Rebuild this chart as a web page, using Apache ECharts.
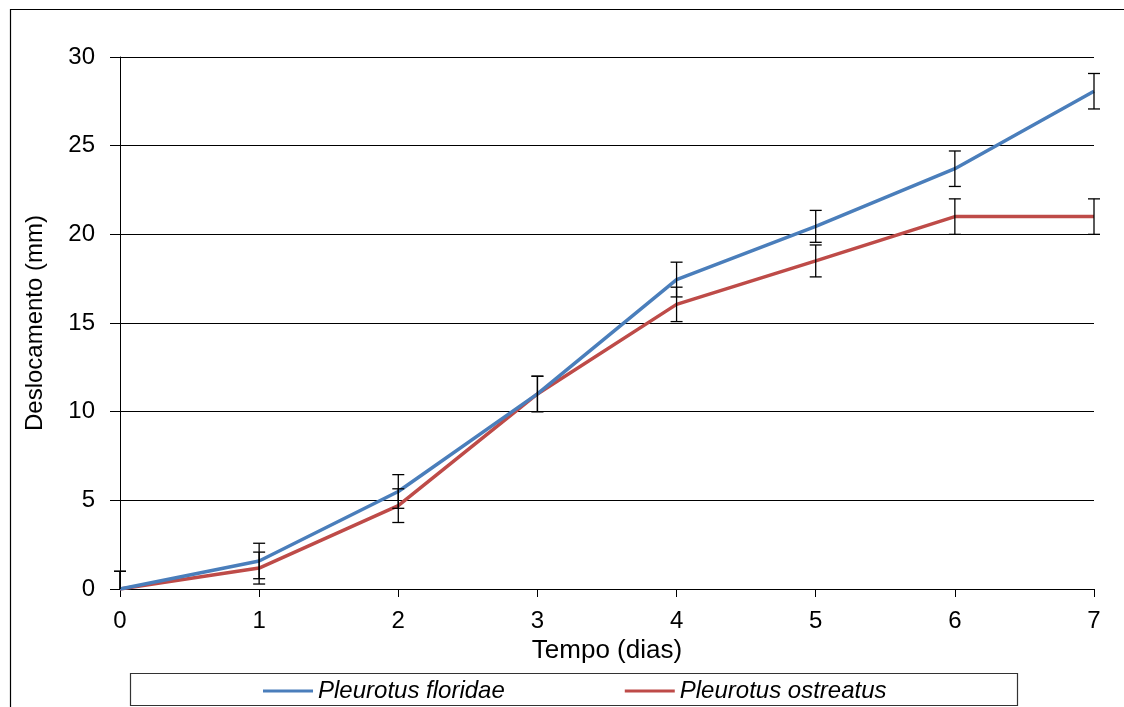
<!DOCTYPE html>
<html>
<head>
<meta charset="utf-8">
<script src="https://cdn.jsdelivr.net/npm/echarts@6/dist/echarts.min.js"></script>
<style>
  html, body { margin: 0; padding: 0; background: #fff; }
  #main { width: 1124px; height: 707px; }
</style>
</head>
<body>
<div id="main"></div>
<script>
// dados
var dias = [0, 1, 2, 3, 4, 5, 6, 7];
var floridae = [0, 1.58, 5.5, 11.0, 17.45, 20.45, 23.7, 28.07];
var floridaeErr = [1.0, 1.0, 0.95, 1.0, 0.98, 0.9, 1.0, 1.0];
var ostreatus = [0, 1.18, 4.7, 11.0, 16.05, 18.5, 21.0, 21.0];
var ostreatusErr = [1.0, 0.9, 0.95, 1.0, 0.97, 0.9, 1.0, 1.0];
var yTicks = [0, 5, 10, 15, 20, 25, 30];

var font = 'Liberation Sans, Arial, sans-serif';

function pares(ys) {
  return dias.map(function (d, i) { return [d, ys[i]]; });
}
function barras(ys, errs) {
  return dias.map(function (d, i) { return [d, ys[i] - errs[i], ys[i] + errs[i]]; });
}

function desenhaErro(params, api) {
  var x = api.value(0);
  var lo = api.coord([x, api.value(1)]);
  var hi = api.coord([x, api.value(2)]);
  var base = params.coordSys.y + params.coordSys.height;
  var w = 6;
  var st = { stroke: '#000', lineWidth: 1.3 };
  var kids = [
    { type: 'line', shape: { x1: hi[0], y1: hi[1], x2: lo[0], y2: Math.min(lo[1], base) }, style: st },
    { type: 'line', shape: { x1: hi[0] - w, y1: hi[1], x2: hi[0] + w, y2: hi[1] }, style: st }
  ];
  // abaixo de zero não aparece
  if (lo[1] <= base) {
    kids.push({ type: 'line', shape: { x1: lo[0] - w, y1: lo[1], x2: lo[0] + w, y2: lo[1] }, style: st });
  }
  return { type: 'group', children: kids };
}

var myChart = echarts.init(document.getElementById('main'));

var option = {
  backgroundColor: '#fff',
  animation: false,
  textStyle: { fontFamily: font },
  grid: { left: 120, right: 30, top: 57, bottom: 118, containLabel: false },
  graphic: [
    { type: 'rect', left: 8, top: 7, shape: { width: 1130, height: 720 },
      style: { fill: 'none', stroke: '#000', lineWidth: 1.2 }, silent: true, z: -1 },
    { type: 'rect', left: 128, top: 671, shape: { width: 887, height: 32 },
      style: { fill: 'none', stroke: '#333', lineWidth: 1.2 }, silent: true }
  ],
  legend: {
    left: 258, top: 674,
    itemWidth: 50, itemHeight: 3, itemGap: 120,
    icon: 'rect',
    textStyle: { fontFamily: font, fontSize: 24, fontStyle: 'italic', color: '#000' },
    data: ['Pleurotus floridae', 'Pleurotus ostreatus']
  },
  xAxis: {
    type: 'value', min: 0, max: 7, interval: 1,
    name: 'Tempo (dias)', nameLocation: 'middle', nameGap: 47,
    nameTextStyle: { fontFamily: font, fontSize: 26, color: '#000' },
    axisLine: { lineStyle: { color: '#000', width: 1 } },
    axisTick: { length: 8, lineStyle: { color: '#000' } },
    axisLabel: { fontFamily: font, fontSize: 24, color: '#000', margin: 20 },
    splitLine: { show: false }
  },
  yAxis: {
    type: 'value', min: yTicks[0], max: yTicks[yTicks.length - 1], interval: 5,
    name: 'Deslocamento (mm)', nameLocation: 'middle', nameGap: 73,
    nameTextStyle: { fontFamily: font, fontSize: 24, color: '#000' },
    axisLine: { show: true, lineStyle: { color: '#000', width: 1 } },
    axisTick: { show: true, length: 10, lineStyle: { color: '#000' } },
    axisLabel: { fontFamily: font, fontSize: 24, color: '#000', margin: 25 },
    splitLine: { show: true, lineStyle: { color: '#000', width: 1 } }
  },
  series: [
    {
      name: 'Pleurotus floridae', type: 'line', data: pares(floridae),
      symbol: 'none', lineStyle: { color: '#4A7EBB', width: 3.5 },
      itemStyle: { color: '#4A7EBB' }, z: 3
    },
    {
      name: 'Pleurotus ostreatus', type: 'line', data: pares(ostreatus),
      symbol: 'none', lineStyle: { color: '#BE4B48', width: 3.5 },
      itemStyle: { color: '#BE4B48' }, z: 2
    },
    { type: 'custom', renderItem: desenhaErro, data: barras(floridae, floridaeErr), clip: false, z: 4 },
    { type: 'custom', renderItem: desenhaErro, data: barras(ostreatus, ostreatusErr), clip: false, z: 4 }
  ]
};

myChart.setOption(option);
</script>
</body>
</html>
